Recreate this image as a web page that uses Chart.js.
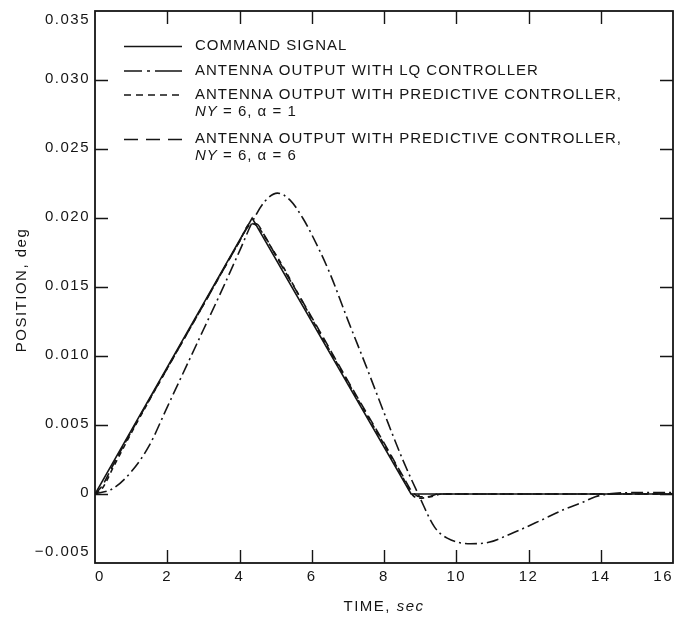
<!DOCTYPE html>
<html>
<head>
<meta charset="utf-8">
<script src="https://cdn.jsdelivr.net/npm/chart.js@4.4.1/dist/chart.umd.min.js"></script>
<style>
  html, body { margin: 0; padding: 0; background: #ffffff; }
  #wrap { width: 678px; height: 618px; }
</style>
</head>
<body>
<div id="wrap"><canvas id="chart" width="678" height="618"></canvas></div>
<script>
// Command signal: triangular pointing manoeuvre (time in sec, position in deg)
const commandTime = [0, 4.35, 8.75, 16];
const commandPos  = [0, 0.0200, 0, 0];

// Antenna response with the LQ controller
const lqTime = [0, 0.5, 1.0, 1.5, 2.0, 2.5, 3.0, 3.5, 4.0, 4.4, 4.7, 5.05, 5.4, 5.75, 6.0, 6.5, 7.0, 7.5, 8.0, 8.5, 9.0, 9.4, 9.75, 10.4, 10.9, 11.5, 12.35, 13.0, 13.5, 13.85, 14.2, 15.0, 16.0];
const lqPos  = [0, 0.0004, 0.0016, 0.0035, 0.0063, 0.0091, 0.0119, 0.0147, 0.0176, 0.01995, 0.0212, 0.0218, 0.0213, 0.0200, 0.0188, 0.0160, 0.0126, 0.0093, 0.0059, 0.0026, -0.0003, -0.0024, -0.0032, -0.0036, -0.0035, -0.0029, -0.0019, -0.0011, -0.0006, -0.0002, 0, 0.0001, 0.0001];

// Antenna response with the predictive controller, NY = 6, alpha = 1
const pred1Time = [0, 0.2, 0.5, 1, 2, 3, 4, 4.3, 4.5, 4.8, 5.2, 6, 7, 8, 8.5, 8.8, 9.0, 9.3, 9.6, 16];
const pred1Pos  = [0, 0.0004, 0.0019, 0.0044, 0.0091, 0.0137, 0.0183, 0.0196, 0.0194, 0.0182, 0.0165, 0.0127, 0.0081, 0.0036, 0.0013, -0.0001, -0.0003, -0.0002, 0, 0];

// Antenna response with the predictive controller, NY = 6, alpha = 6
const pred6Time = [0, 0.2, 0.5, 1, 2, 3, 4, 4.25, 4.45, 4.7, 5.0, 6, 7, 8, 8.5, 8.8, 9.0, 9.2, 9.5, 16];
const pred6Pos  = [0, 0.0006, 0.0021, 0.0045, 0.0091, 0.0137, 0.0183, 0.0194, 0.0196, 0.0187, 0.0173, 0.0128, 0.0082, 0.0037, 0.0014, 0.0001, -0.0002, -0.0002, 0, 0];

// Tick labels
const xTickLabels = ['0', '2', '4', '6', '8', '10', '12', '14', '16'];
const yTickLabels = ['\u22120.005', '0', '0.005', '0.010', '0.015', '0.020', '0.025', '0.030', '0.035'];

// Legend texts
const seriesNames = [
  'COMMAND SIGNAL',
  'ANTENNA OUTPUT WITH LQ CONTROLLER',
  'ANTENNA OUTPUT WITH PREDICTIVE CONTROLLER,',
  'ANTENNA OUTPUT WITH PREDICTIVE CONTROLLER,'
];
const seriesSubLines = [null, null, ' = 6, \u03b1 = 1', ' = 6, \u03b1 = 6'];

const INK = '#151515';
const FONT = '"Liberation Sans", Arial, Helvetica, sans-serif';

function toPoints(t, v) { return t.map((x, i) => ({ x: x, y: v[i] })); }

// Draws a run of text pieces, some italic, starting at x (left aligned)
function drawRuns(ctx, runs, x, y, size) {
  let cx = x;
  runs.forEach(r => {
    ctx.font = (r.italic ? 'italic ' : '') + size + 'px ' + FONT;
    ctx.fillText(r.text, cx, y);
    cx += ctx.measureText(r.text).width;
  });
}
function runsWidth(ctx, runs, size) {
  let w = 0;
  runs.forEach(r => {
    ctx.font = (r.italic ? 'italic ' : '') + size + 'px ' + FONT;
    w += ctx.measureText(r.text).width;
  });
  return w;
}

const framePlugin = {
  id: 'frameAndText',
  beforeDraw(chart) {
    chart.ctx.letterSpacing = '1.5px';
  },
  afterDraw(chart) {
    const ctx = chart.ctx;
    const { left, right, top, bottom } = chart.chartArea;
    const xs = chart.scales.x, ys = chart.scales.y;
    ctx.save();
    ctx.strokeStyle = INK;
    ctx.fillStyle = INK;

    // frame
    ctx.lineWidth = 1.8;
    ctx.strokeRect(left, top, right - left, bottom - top);

    // inward tick marks on all four sides
    ctx.lineWidth = 1.4;
    const TL = 13;
    ctx.beginPath();
    xs.ticks.forEach(t => {
      if (t.value <= xs.min || t.value >= xs.max) return;
      const px = Math.round(xs.getPixelForValue(t.value)) + 0.5;
      ctx.moveTo(px, bottom); ctx.lineTo(px, bottom - TL);
      ctx.moveTo(px, top); ctx.lineTo(px, top + TL);
    });
    ys.ticks.forEach(t => {
      if (t.value <= ys.min + 1e-9 || t.value >= ys.max - 1e-9) return;
      const py = Math.round(ys.getPixelForValue(t.value)) + 0.5;
      ctx.moveTo(left, py); ctx.lineTo(left + TL, py);
      ctx.moveTo(right, py); ctx.lineTo(right - TL, py);
    });
    ctx.stroke();

    // y tick labels, kept inside the frame at the two ends
    ctx.letterSpacing = '1.5px';
    ctx.font = '15px ' + FONT;
    ctx.textAlign = 'right';
    ctx.textBaseline = 'middle';
    ys.ticks.forEach((t, i) => {
      let py = ys.getPixelForValue(t.value) - 1.5;
      py = Math.min(Math.max(py, top + 9), bottom - 11);
      ctx.fillText(yTickLabels[i], left - 5, py);
    });

    // axis titles
    ctx.textAlign = 'left';
    const xTitle = [{ text: 'TIME, ', italic: false }, { text: 'sec', italic: true }];
    const xw = runsWidth(ctx, xTitle, 15);
    drawRuns(ctx, xTitle, (left + right) / 2 - xw / 2, 607, 15);

    ctx.save();
    ctx.translate(22, 290);
    ctx.rotate(-Math.PI / 2);
    const yTitle = [{ text: 'POSITION, deg', italic: false }];
    const yw = runsWidth(ctx, yTitle, 15);
    drawRuns(ctx, yTitle, -yw / 2, 0, 15);
    ctx.restore();

    // legend
    ctx.letterSpacing = '1px';
    const rows = [46, 70.5, 94.5, 139];
    const subGap = 17;
    const sampleX0 = 124, sampleX1 = 182, textX = 195;
    chart.data.datasets.forEach((ds, i) => {
      const y = rows[i];
      ctx.save();
      ctx.lineWidth = 1.6;
      ctx.setLineDash(ds.legendDash || []);
      ctx.beginPath();
      ctx.moveTo(sampleX0, y + 0.5); ctx.lineTo(sampleX1, y + 0.5);
      ctx.stroke();
      ctx.restore();
      drawRuns(ctx, [{ text: seriesNames[i], italic: false }], textX, y, 15);
      if (seriesSubLines[i]) {
        drawRuns(ctx, [{ text: 'NY', italic: true }, { text: seriesSubLines[i], italic: false }], textX, y + subGap, 15);
      }
    });
    ctx.restore();
    ctx.letterSpacing = '0px';
  }
};

const lineBase = { borderColor: INK, borderWidth: 1.6, pointRadius: 0, fill: false };

new Chart(document.getElementById('chart'), {
  type: 'line',
  data: {
    datasets: [
      Object.assign({}, lineBase, { label: seriesNames[0], data: toPoints(commandTime, commandPos), tension: 0, legendDash: [] }),
      Object.assign({}, lineBase, { label: seriesNames[1], data: toPoints(lqTime, lqPos), cubicInterpolationMode: 'monotone', borderDash: [12, 4, 2, 4], legendDash: [18, 5, 3, 5, 40] }),
      Object.assign({}, lineBase, { label: seriesNames[2], data: toPoints(pred1Time, pred1Pos), cubicInterpolationMode: 'monotone', borderDash: [5, 4], legendDash: [7, 5] }),
      Object.assign({}, lineBase, { label: seriesNames[3], data: toPoints(pred6Time, pred6Pos), cubicInterpolationMode: 'monotone', borderDash: [10, 5], legendDash: [14, 8] })
    ]
  },
  options: {
    responsive: false,
    animation: false,
    devicePixelRatio: 1,
    layout: { padding: { left: 0, right: 4, top: 11, bottom: 0 } },
    plugins: { legend: { display: false }, tooltip: { enabled: false }, title: { display: false } },
    scales: {
      x: {
        type: 'linear', min: 0, max: 16,
        grid: { display: false, drawTicks: false },
        border: { display: false },
        ticks: {
          stepSize: 2, autoSkip: false, maxRotation: 0, align: 'inner', padding: 5,
          color: INK, font: { family: FONT, size: 15 },
          callback: (v, i) => xTickLabels[i]
        },
        afterFit: s => { s.height = 55; }
      },
      y: {
        type: 'linear', min: -0.005, max: 0.035,
        grid: { display: false, drawTicks: false },
        border: { display: false },
        ticks: { stepSize: 0.005, display: false },
        afterFit: s => { s.width = 95; }
      }
    }
  },
  plugins: [framePlugin]
});
</script>
</body>
</html>
